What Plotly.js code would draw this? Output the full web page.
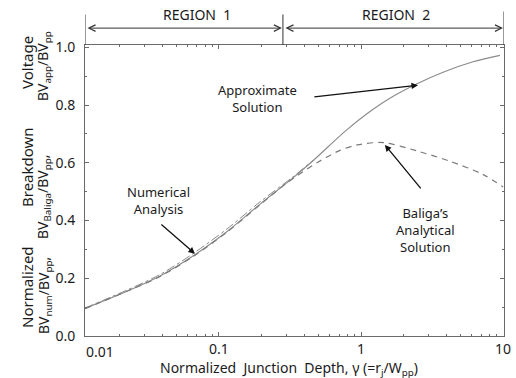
<!DOCTYPE html>
<html>
<head>
<meta charset="utf-8">
<script src="https://cdn.plot.ly/plotly-3.0.1.min.js"></script>
<style>html,body{margin:0;padding:0;background:#fff;}#chart{width:516px;height:378px;}</style>
</head>
<body>
<div id="chart"></div>
<script>
// ---- data ----
var approxX = [0.0114, 0.0152, 0.0225, 0.0385, 0.0656, 0.114, 0.195, 0.327, 0.459, 0.771, 1.1, 1.585, 2.48, 3.78, 6.15, 9.5];
var approxY = [0.095, 0.12, 0.155, 0.208, 0.277, 0.362, 0.457, 0.545, 0.607, 0.709, 0.77, 0.823, 0.874, 0.914, 0.95, 0.972];

var numX = [0.0114, 0.0152, 0.0225, 0.0385, 0.0656, 0.114, 0.195, 0.327, 0.459];
var numY = [0.097, 0.123, 0.159, 0.213, 0.285, 0.371, 0.465, 0.549, 0.608];

var baligaX = [0.0114, 0.0152, 0.0225, 0.0385, 0.0656, 0.114, 0.195, 0.3, 0.5, 0.71, 0.94, 1.43, 2.48, 4.24, 7.2, 10];
var baligaY = [0.095, 0.12, 0.155, 0.206, 0.275, 0.36, 0.455, 0.53, 0.603, 0.643, 0.662, 0.67, 0.641, 0.605, 0.56, 0.516];

var xTickVals = [0.1, 1, 10];
var xTickText = ['0.1', '1', '10'];
var yTickVals = [0, 0.2, 0.4, 0.6, 0.8, 1.0];
var yTickText = ['0.0', '0.2', '0.4', '0.6', '0.8', '1.0'];

var xStart = 0.0114, xEnd = 10.15;
var regionBoundary = 0.282;

// ---- chart ----
var F = '"Noto Sans", "Open Sans", Arial, sans-serif';
var L = Math.log10;
var TXT = '#1a1a1a';

var minorX = [];
[0.01, 0.1, 1].forEach(function (d) { for (var k = 2; k <= 9; k++) minorX.push(k * d); });

var traces = [
  {x: approxX, y: approxY, mode: 'lines', line: {color: '#8a8a8a', width: 1.1, shape: 'spline', smoothing: 0.8}, hoverinfo: 'skip'},
  {x: numX, y: numY, mode: 'lines', line: {color: '#8a8a8a', width: 1, dash: 'dashdot', shape: 'spline', smoothing: 0.8}, hoverinfo: 'skip'},
  {x: baligaX, y: baligaY, mode: 'lines', line: {color: '#7a7a7a', width: 1.2, dash: '6px,5px', shape: 'spline', smoothing: 0.8}, hoverinfo: 'skip'}
];

function txt(x, y, text, size, extra) {
  var a = {xref: 'paper', yref: 'paper', x: x, y: y, text: text, showarrow: false,
           xanchor: 'center', yanchor: 'middle', font: {family: F, size: size, color: TXT}};
  for (var k in (extra || {})) a[k] = extra[k];
  return a;
}
function px2paperX(px) { return (px - 85) / 419; }
function px2paperY(py) { return (336 - py) / 291; }

var axLine = '#6a6a6a';
var layout = {
  width: 516, height: 378,
  margin: {l: 85, r: 12, t: 45, b: 42},
  paper_bgcolor: '#fff', plot_bgcolor: '#fff',
  showlegend: false,
  font: {family: F, size: 13, color: TXT},
  xaxis: {
    type: 'log', range: [L(xStart), L(xEnd)],
    tickvals: xTickVals, ticktext: xTickText,
    ticks: 'inside', ticklen: 4, tickcolor: axLine,
    showline: true, linecolor: axLine, linewidth: 1, mirror: 'ticks',
    showgrid: false, zeroline: false,
    tickfont: {family: F, size: 14, color: TXT},
    minor: {tickvals: minorX, ticks: 'inside', ticklen: 2, tickcolor: axLine, showgrid: false}
  },
  yaxis: {
    range: [0, 1.008],
    tickvals: yTickVals, ticktext: yTickText,
    ticks: 'inside', ticklen: 4, tickcolor: axLine,
    showline: true, linecolor: axLine, linewidth: 1, mirror: 'ticks',
    showgrid: false, zeroline: false,
    ticklabelstandoff: 6,
    tickfont: {family: F, size: 14, color: TXT},
    minor: {dtick: 0.1, ticks: 'inside', ticklen: 2, tickcolor: axLine, showgrid: false}
  },
  shapes: [
    {type: 'line', xref: 'x', yref: 'paper', x0: xStart, x1: xStart, y0: 1.0, y1: 1.105, line: {color: '#333', width: 1}},
    {type: 'line', xref: 'x', yref: 'paper', x0: regionBoundary, x1: regionBoundary, y0: 1.0, y1: 1.105, line: {color: '#333', width: 1}},
    {type: 'line', xref: 'x', yref: 'paper', x0: xEnd, x1: xEnd, y0: 1.0, y1: 1.115, line: {color: '#333', width: 1}}
  ],
  annotations: [
    // region arrows
    {xref: 'x', yref: 'paper', x: L(regionBoundary), y: 1.058, axref: 'x', ax: L(xStart), ayref: 'pixel', ay: 0,
     text: '', showarrow: true, arrowside: 'end+start', arrowhead: 5, arrowsize: 1.3, arrowwidth: 1, arrowcolor: '#333', standoff: 1, startstandoff: 1},
    {xref: 'x', yref: 'paper', x: L(xEnd), y: 1.058, axref: 'x', ax: L(regionBoundary), ayref: 'pixel', ay: 0,
     text: '', showarrow: true, arrowside: 'end+start', arrowhead: 5, arrowsize: 1.3, arrowwidth: 1, arrowcolor: '#333', standoff: 1, startstandoff: 1},
    txt(px2paperX(197), px2paperY(15), 'REGION  1', 14),
    txt(px2paperX(396), px2paperY(15), 'REGION  2', 14),

    // curve labels
    txt(px2paperX(257), px2paperY(98), 'Approximate<br>Solution', 13),
    {xref: 'x', yref: 'y', x: 0.401, y: 0.869, axref: 'x', ax: -0.339, ayref: 'y', ay: 0.828, text: '', showarrow: true,
     arrowhead: 2, arrowsize: 1, arrowwidth: 1.3, arrowcolor: '#111', standoff: 0},

    txt(px2paperX(158), px2paperY(200), 'Numerical<br>Analysis', 13),
    {xref: 'x', yref: 'y', x: -1.1695, y: 0.285, axref: 'x', ax: -1.416, ayref: 'y', ay: 0.391, text: '', showarrow: true,
     arrowhead: 2, arrowsize: 1, arrowwidth: 1.3, arrowcolor: '#111', standoff: 0},

    txt(px2paperX(425), px2paperY(230), 'Baliga\u2019s<br>Analytical<br>Solution', 13),
    {xref: 'x', yref: 'y', x: 0.168, y: 0.662, axref: 'x', ax: 0.429, ayref: 'y', ay: 0.506, text: '', showarrow: true,
     arrowhead: 2, arrowsize: 1, arrowwidth: 1.3, arrowcolor: '#111', standoff: 0},

    // "0.01" tick label at the left edge
    txt(px2paperX(100), px2paperY(351), '0.01', 14),

    // x-axis title
    txt(px2paperX(289), px2paperY(368), 'Normalized  Junction  Depth, \u03B3 (=r<sub>j</sub>/W<sub>pp</sub>)', 14),

    // y-axis title (two rotated lines)
    txt(px2paperX(27), px2paperY(287), 'Normalized', 15, {textangle: -90}),
    txt(px2paperX(27), px2paperY(167), 'Breakdown', 15, {textangle: -90}),
    txt(px2paperX(27), px2paperY(63), 'Voltage', 15, {textangle: -90}),
    txt(px2paperX(44), px2paperY(296), 'BV<sub>num</sub>/BV<sub>pp</sub>,', 14, {textangle: -90}),
    txt(px2paperX(44), px2paperY(197), 'BV<sub>Baliga</sub>/BV<sub>pp</sub>,', 14, {textangle: -90}),
    txt(px2paperX(44), px2paperY(66), 'BV<sub>app</sub>/BV<sub>pp</sub>', 14, {textangle: -90})
  ]
};

Plotly.newPlot('chart', traces, layout, {staticPlot: true, displayModeBar: false});
</script>
</body>
</html>
